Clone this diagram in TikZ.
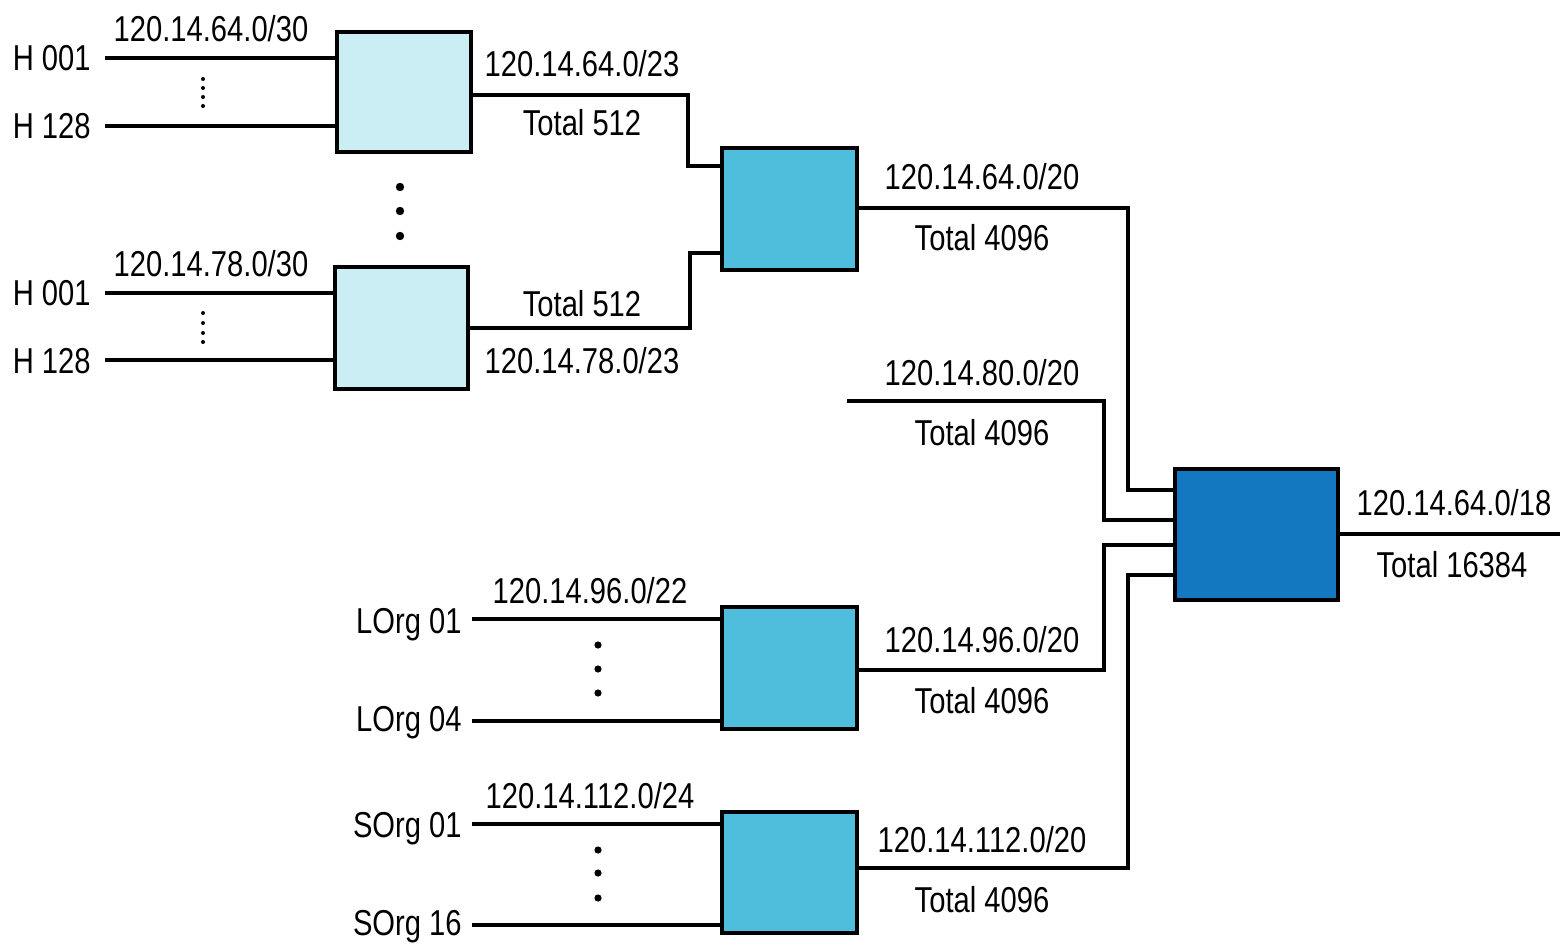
\documentclass[tikz,border=0pt]{standalone}
\usepackage{fontspec}
\setmainfont{Liberation Sans}[FakeStretch=0.81]
\definecolor{lightc}{RGB}{202,238,243}
\definecolor{midc}{RGB}{78,190,220}
\definecolor{darkc}{RGB}{20,120,192}
\begin{document}
\begin{tikzpicture}[x=0.5pt,y=-0.5pt,
  lbl/.style={font=\fontsize{18}{21}\selectfont, inner sep=0pt, anchor=base},
  llbl/.style={lbl, anchor=base east},
  wire/.style={line width=1.7pt},
  box/.style={draw, line width=1.7pt, inner sep=0pt, outer sep=0pt},
]
\useasboundingbox (0,0) rectangle (1560,947);
% boxes
\node[box, fill=lightc, minimum width=67pt, minimum height=60pt] (b1) at (404,92) {};
\node[box, fill=lightc, minimum width=66.5pt, minimum height=61pt] (b2) at (401.5,328) {};
\node[box, fill=midc, minimum width=67.5pt, minimum height=61pt] (b3) at (789.5,209) {};
\node[box, fill=midc, minimum width=67.5pt, minimum height=61pt] (b4) at (789.5,668) {};
\node[box, fill=midc, minimum width=67.5pt, minimum height=60.5pt] (b5) at (789.5,872.5) {};
\node[box, fill=darkc, minimum width=81.5pt, minimum height=65.5pt] (b6) at (1256.5,534.5) {};
% host groups
\coordinate (s1) at (105,58);
\coordinate (s2) at (105,126);
\coordinate (s3) at (105,293);
\coordinate (s4) at (105,360);
\node[llbl] (h1) at ([xshift=-7pt,yshift=-6.5pt]s1) {H 001};
\node[llbl] (h2) at ([xshift=-7pt,yshift=-6.5pt]s2) {H 128};
\node[llbl] (h3) at ([xshift=-7pt,yshift=-6.5pt]s3) {H 001};
\node[llbl] (h4) at ([xshift=-7pt,yshift=-6.5pt]s4) {H 128};
\draw[wire] (s1) -- (s1 -| b1.west);
\draw[wire] (s2) -- (s2 -| b1.west);
\draw[wire] (s3) -- (s3 -| b2.west);
\draw[wire] (s4) -- (s4 -| b2.west);
\node[lbl] (n1) at (211,42) {120.14.64.0/30};
\node[lbl] (n2) at (211,277) {120.14.78.0/30};
\foreach \y in {79,88,97,106,313,323,333,342} \fill (203,\y) circle (1pt);
\foreach \y in {187,211,236} \fill (400,\y) circle (2.1pt);
% organisation groups
\coordinate (s5) at (472,619);
\coordinate (s6) at (472,721);
\coordinate (s7) at (472,824);
\coordinate (s8) at (472,925);
\node[llbl] (l1) at ([xshift=-5pt,yshift=-7pt]s5) {LOrg 01};
\node[llbl] (l2) at ([xshift=-5pt,yshift=-5pt]s6) {LOrg 04};
\node[llbl] (l3) at ([xshift=-5pt,yshift=-6.5pt]s7) {SOrg 01};
\node[llbl] (l4) at ([xshift=-5pt,yshift=-5pt]s8) {SOrg 16};
\draw[wire] (s5) -- (s5 -| b4.west);
\draw[wire] (s6) -- (s6 -| b4.west);
\draw[wire] (s7) -- (s7 -| b5.west);
\draw[wire] (s8) -- (s8 -| b5.west);
\node[lbl] (n3) at (590,603) {120.14.96.0/22};
\node[lbl] (n4) at (590,808) {120.14.112.0/24};
\foreach \y in {645,669,693,850,873,898} \fill (598,\y) circle (1.8pt);
% aggregation links
\draw[wire] (b1.east |- 0,95) -| (688,166) -- (b3.west |- 0,166);
\draw[wire] (b2.east |- 0,328) -| (690,253) -- (b3.west |- 0,253);
\node[lbl] (t1) at (582,77) {120.14.64.0/23};
\node[lbl] (t2) at (582,136) {Total 512};
\node[lbl] (t3) at (582,316) {Total 512};
\node[lbl] (t4) at (582,373) {120.14.78.0/23};
\draw[wire] (b3.east |- 0,208) -| (1128,490) -- (b6.west |- 0,490);
\coordinate (c80) at (847,401);
\draw[wire] (c80) -| (1104,520) -- (b6.west |- 0,520);
\draw[wire] (b4.east |- 0,670) -| (1104,545) -- (b6.west |- 0,545);
\draw[wire] (b5.east |- 0,868) -| (1128,575) -- (b6.west |- 0,575);
\node[lbl] (u1) at (982,190) {120.14.64.0/20};
\node[lbl] (u2) at (982,250) {Total 4096};
\node[lbl] (u3) at (982,385) {120.14.80.0/20};
\node[lbl] (u4) at (982,445) {Total 4096};
\node[lbl] (u5) at (982,652) {120.14.96.0/20};
\node[lbl] (u6) at (982,713) {Total 4096};
\node[lbl] (u7) at (982,852) {120.14.112.0/20};
\node[lbl] (u8) at (982,912) {Total 4096};
\coordinate (out) at (1560,534);
\draw[wire] (b6.east |- out) -- (out);
\node[lbl] (v1) at (1454,515) {120.14.64.0/18};
\node[lbl] (v2) at (1452,577) {Total 16384};
\end{tikzpicture}
\end{document}
